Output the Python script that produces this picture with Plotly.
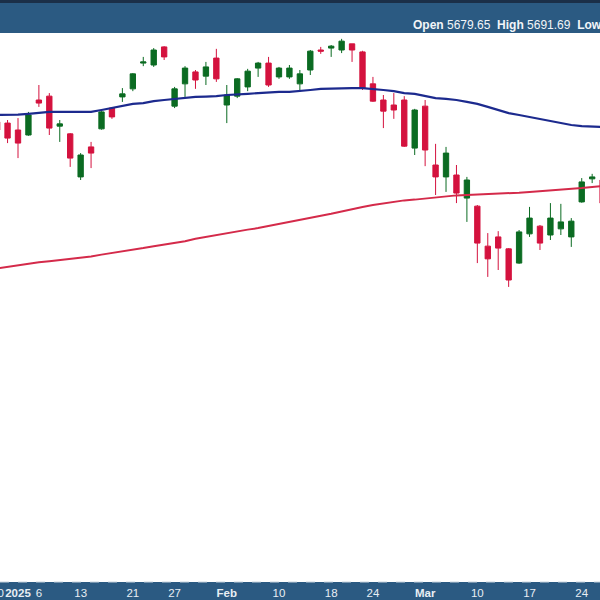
import plotly.graph_objects as go

dates = ["2024-12-30", "2024-12-31", "2025-01-02", "2025-01-03", "2025-01-06", "2025-01-07", "2025-01-08",
         "2025-01-10", "2025-01-13", "2025-01-14", "2025-01-15", "2025-01-16", "2025-01-17", "2025-01-21",
         "2025-01-22", "2025-01-23", "2025-01-24", "2025-01-27", "2025-01-28", "2025-01-29", "2025-01-30",
         "2025-01-31", "2025-02-03", "2025-02-04", "2025-02-05", "2025-02-06", "2025-02-07", "2025-02-10",
         "2025-02-11", "2025-02-12", "2025-02-13", "2025-02-14", "2025-02-18", "2025-02-19", "2025-02-20",
         "2025-02-21", "2025-02-24", "2025-02-25", "2025-02-26", "2025-02-27", "2025-02-28", "2025-03-03",
         "2025-03-04", "2025-03-05", "2025-03-06", "2025-03-07", "2025-03-10", "2025-03-11", "2025-03-12",
         "2025-03-13", "2025-03-14", "2025-03-17", "2025-03-18", "2025-03-19", "2025-03-20", "2025-03-21",
         "2025-03-24", "2025-03-25", "2025-03-26"]

open_ = [5937, 5934, 5916, 5903, 5994, 6004, 5926, 5906, 5794, 5872, 5919, 5973, 6002, 6023, 6090, 6085,
         6132, 5978, 6036, 6067, 6056, 6103, 5981, 6004, 6028, 6077, 6090, 6054, 6054, 6036, 6072, 6124,
         6129, 6124, 6140, 6119, 6036, 5994, 5981, 5994, 5869, 5978, 5825, 5794, 5799, 5739, 5718, 5614,
         5638, 5607, 5570, 5646, 5666, 5643, 5659, 5638, 5729, 5789, 5786]
high = [5955, 5942, 5947, 5963, 6033, 6012, 5942, 5908, 5856, 5885, 5965, 5975, 6025, 6064, 6106, 6129,
        6134, 6028, 6082, 6072, 6093, 6127, 6033, 6051, 6075, 6093, 6106, 6080, 6085, 6072, 6124, 6132,
        6137, 6153, 6140, 6122, 6054, 6007, 6012, 6004, 5971, 5994, 5880, 5872, 5825, 5794, 5721, 5648,
        5653, 5609, 5656, 5716, 5669, 5726, 5724, 5687, 5791, 5802, 5794]
low = [5885, 5882, 5843, 5901, 5976, 5903, 5885, 5820, 5786, 5817, 5917, 5945, 5989, 6017, 6082, 6080,
       6098, 5973, 6002, 6023, 6033, 6041, 5934, 5999, 6017, 6054, 6028, 6049, 6049, 6015, 6059, 6114,
       6106, 6116, 6093, 6020, 5989, 5921, 5945, 5872, 5851, 5822, 5747, 5755, 5726, 5677, 5570, 5534,
       5552, 5508, 5568, 5638, 5604, 5630, 5643, 5612, 5727, 5778, 5720]
close = [5916, 5895, 5882, 5955, 5986, 5921, 5932, 5843, 5851, 5856, 5963, 5950, 6010, 6062, 6093, 6124,
         6106, 6023, 6077, 6046, 6080, 6049, 6007, 6049, 6069, 6090, 6033, 6077, 6077, 6062, 6121, 6121,
         6134, 6147, 6124, 6025, 5991, 5965, 5968, 5874, 5968, 5864, 5794, 5856, 5752, 5786, 5622, 5581,
         5609, 5526, 5651, 5687, 5622, 5687, 5677, 5679, 5781, 5794, 5726]

ma50 = [5955, 5955, 5956, 5958, 5960, 5963, 5963, 5963, 5963, 5963, 5968, 5973, 5978, 5984, 5986, 5991,
        5994, 5997, 5999, 6002, 6003, 6004, 6007, 6008, 6010, 6012, 6014, 6015, 6015, 6017, 6020, 6023,
        6024, 6025, 6025, 6025, 6023, 6020, 6017, 6012, 6010, 6004, 5999, 5997, 5994, 5989, 5984, 5976,
        5968, 5960, 5955, 5950, 5945, 5939, 5934, 5929, 5926, 5924, 5924]
ma200 = [5556, 5560, 5565, 5568, 5572, 5575, 5578, 5581, 5583, 5587, 5592, 5596, 5601, 5605, 5609, 5614,
         5618, 5622, 5627, 5633, 5638, 5643, 5647, 5652, 5657, 5661, 5666, 5672, 5677, 5682, 5687, 5692,
         5698, 5704, 5711, 5716, 5721, 5725, 5729, 5733, 5735, 5738, 5740, 5743, 5746, 5747, 5748, 5750,
         5751, 5752, 5753, 5755, 5757, 5759, 5760, 5763, 5765, 5768, 5770]

tick_dates = ["2025-01-02", "2025-01-06", "2025-01-13", "2025-01-21", "2025-01-27", "2025-02-03",
              "2025-02-10", "2025-02-18", "2025-02-24", "2025-03-03", "2025-03-10", "2025-03-17", "2025-03-24"]
tick_labels = ["<b>2025</b>", "6", "13", "21", "27", "<b>Feb</b>", "10", "18", "24", "<b>Mar</b>", "10", "17", "24"]

header = "<b>Open</b> 5679.65  <b>High</b> 5691.69  <b>Low</b>"

GREEN = "#0b6b22"
RED = "#d4123e"
BAR = "#2b5a82"

fig = go.Figure()
fig.add_trace(go.Scatter(x=dates, y=ma200, mode="lines", line=dict(color="#d42a4a", width=2),
                         hoverinfo="skip", showlegend=False))
fig.add_trace(go.Scatter(x=dates, y=ma50, mode="lines", line=dict(color="#1c2a8e", width=2.2),
                         hoverinfo="skip", showlegend=False))
fig.add_trace(go.Candlestick(
    x=dates, open=open_, high=high, low=low, close=close,
    increasing=dict(line=dict(color=GREEN, width=1), fillcolor=GREEN),
    decreasing=dict(line=dict(color=RED, width=1), fillcolor=RED),
    showlegend=False,
))

x0, x1 = 0.276, 57.75
fig.update_layout(
    width=600, height=600,
    margin=dict(l=0, r=0, t=33, b=18),
    paper_bgcolor=BAR, plot_bgcolor="white",
    boxgap=0.27,
    font=dict(family="Liberation Sans, Arial, sans-serif", size=11, color="#e8eef4"),
    xaxis=dict(type="category", range=[x0, x1], rangeslider=dict(visible=False),
               tickmode="array", tickvals=tick_dates, ticktext=tick_labels,
               showgrid=False, zeroline=False, showline=False, ticks="",
               tickfont=dict(size=11.5, color="#e8eef4"), ticklabelstandoff=2),
    yaxis=dict(range=[4740.8, 6168.2], showgrid=False, zeroline=False, showticklabels=False,
               showline=False, ticks=""),
    shapes=[
        dict(type="rect", xref="paper", yref="paper", x0=0, x1=1, y0=1.0546, y1=1.07,
             fillcolor="#1b2f48", line=dict(width=0), layer="above"),
        dict(type="line", xref="paper", yref="paper", x0=0, x1=1, y0=0, y1=0,
             line=dict(color="#c9d4de", width=1, dash="dash"), layer="above"),
    ],
    annotations=[
        dict(text=header, xref="paper", yref="paper", x=411 / 600, y=1 + 8 / 549,
             xanchor="left", yanchor="middle", showarrow=False,
             font=dict(size=12, color="#f2f5f8")),
        dict(text="30", xref="paper", yref="paper", x=(0 - x0) / (x1 - x0), y=-11 / 549,
             xanchor="center", yanchor="middle", showarrow=False,
             font=dict(size=11.5, color="#e8eef4")),
    ],
)

fig.write_html("out.html", config={"displayModeBar": False},
               post_script="document.body.style.margin='0';document.body.style.overflow='hidden';")
